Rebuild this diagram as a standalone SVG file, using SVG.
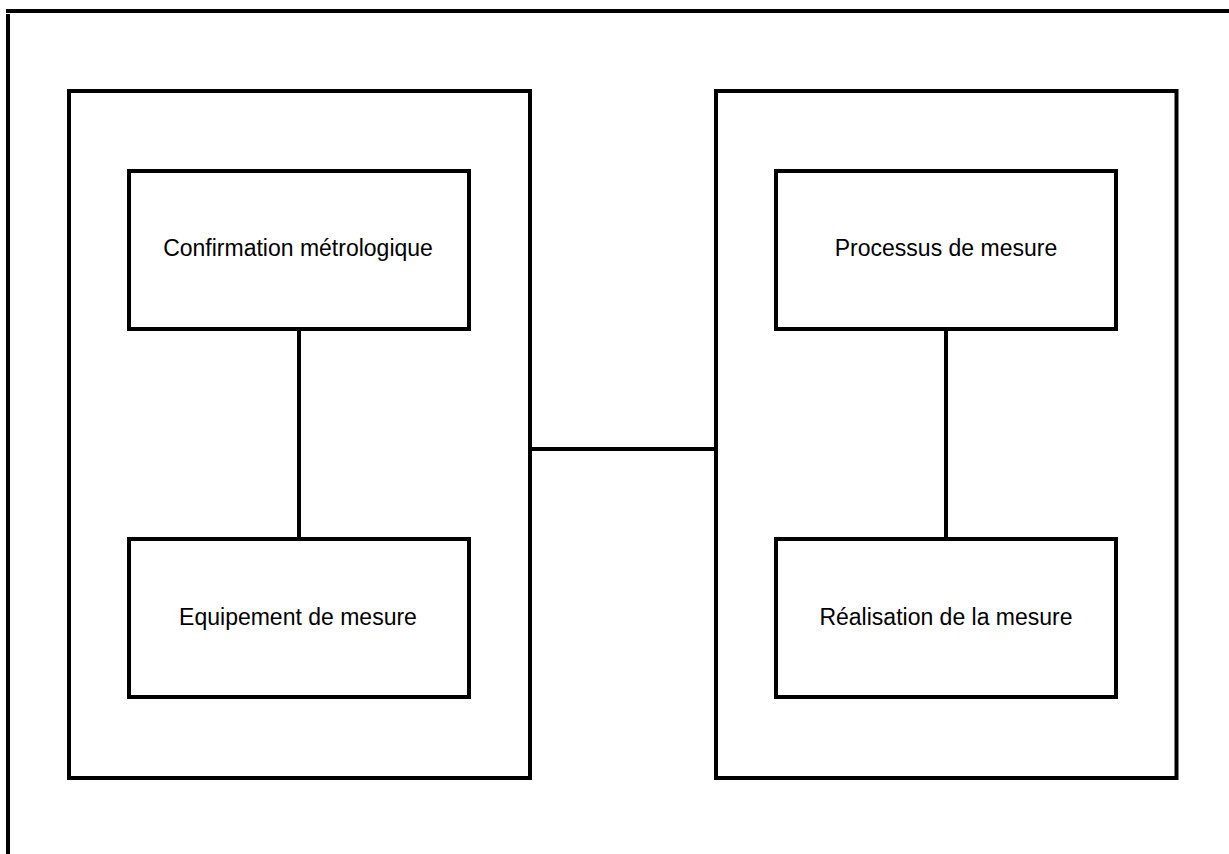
<svg xmlns="http://www.w3.org/2000/svg" width="1229" height="854" viewBox="0 0 1229 854">
<style>
.box{fill:none;stroke:#000;stroke-width:4}
.ln{stroke:#000;stroke-width:4;fill:none}
.lbl{font-family:"Liberation Sans",Arial,sans-serif;font-size:23px;fill:#000;text-anchor:middle}
</style>
<rect width="1229" height="854" fill="#fff"/>
<g id="frame">
<line class="ln" x1="6" y1="11" x2="1229" y2="11"/>
<line class="ln" x1="8" y1="14" x2="8" y2="854"/>
</g>
<g id="group-left"><rect class="box" x="69" y="91" width="461" height="687"/></g>
<g id="group-right"><rect class="box" x="716" y="91" width="460.5" height="687"/></g>
<g id="n-confirmation"><rect class="box" x="129" y="171" width="340" height="158"/><text class="lbl" x="298" y="256">Confirmation métrologique</text></g>
<g id="n-equipement"><rect class="box" x="129" y="539" width="340" height="158"/><text class="lbl" x="298" y="625">Equipement de mesure</text></g>
<g id="n-processus"><rect class="box" x="776" y="171" width="340" height="158"/><text class="lbl" x="946" y="256">Processus de mesure</text></g>
<g id="n-realisation"><rect class="box" x="776" y="539" width="340" height="158"/><text class="lbl" x="946" y="625">Réalisation de la mesure</text></g>
<g id="connectors">
<line class="ln" x1="299" y1="329" x2="299" y2="539"/>
<line class="ln" x1="946" y1="329" x2="946" y2="539"/>
<line class="ln" x1="530" y1="449" x2="716" y2="449"/>
</g>
</svg>
